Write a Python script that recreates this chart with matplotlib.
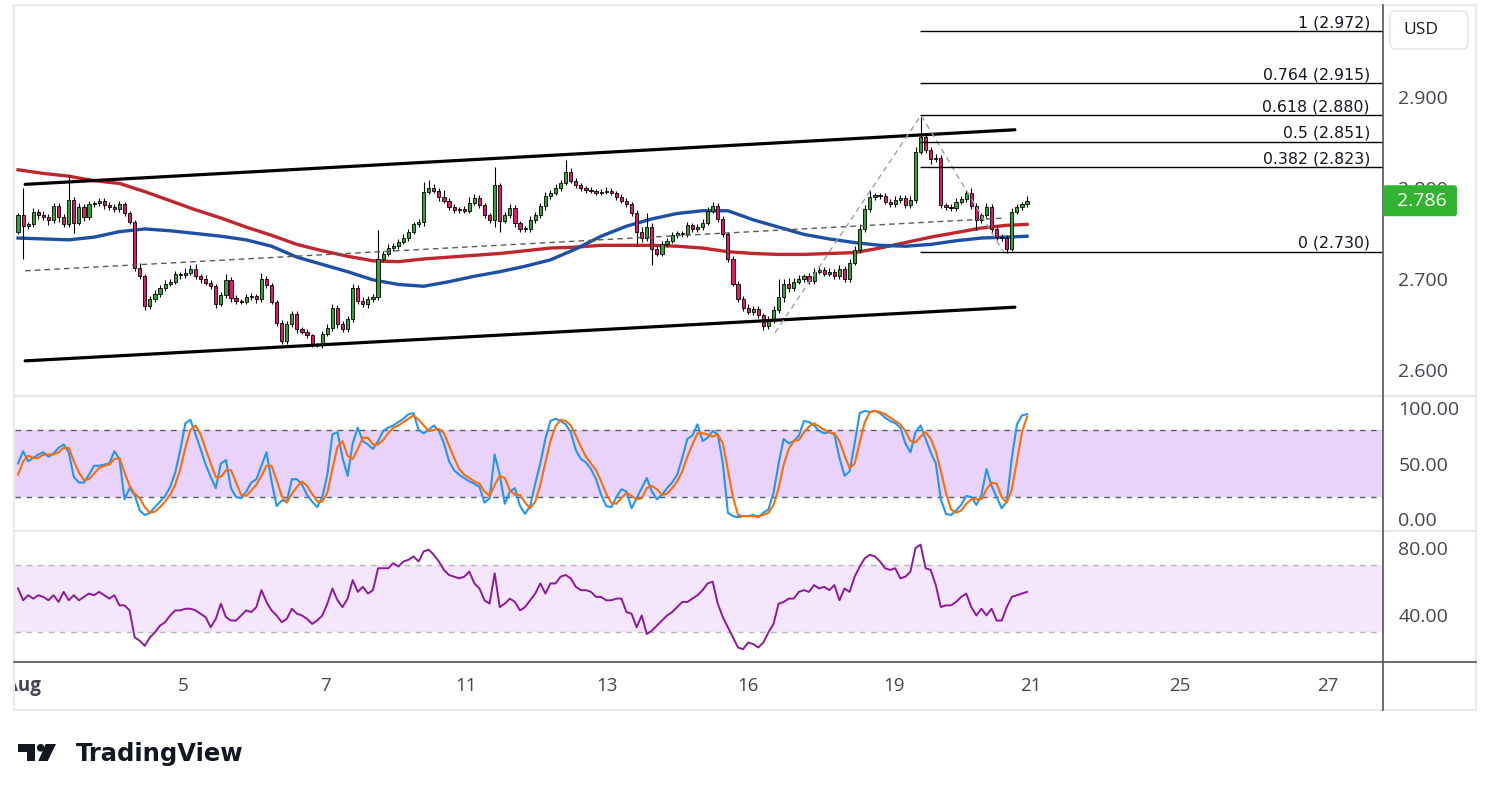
import numpy as np
import matplotlib.pyplot as plt
from matplotlib.patches import Rectangle, FancyBboxPatch, Circle, Polygon
from matplotlib.transforms import blended_transform_factory

plt.rcParams['font.family'] = ['Open Sans', 'DejaVu Sans']

# candles (USD), open = previous close
first_open = 2.752
closes = [2.770, 2.758, 2.760, 2.774, 2.770, 2.768, 2.765, 2.780, 2.768, 2.760,
          2.787, 2.762, 2.779, 2.768, 2.782, 2.783, 2.786, 2.781, 2.779, 2.777,
          2.782, 2.772, 2.763, 2.712, 2.703, 2.670, 2.678, 2.684, 2.690, 2.695,
          2.697, 2.705, 2.704, 2.707, 2.711, 2.703, 2.700, 2.696, 2.692, 2.673,
          2.682, 2.699, 2.679, 2.676, 2.675, 2.680, 2.681, 2.678, 2.700, 2.693,
          2.675, 2.652, 2.632, 2.650, 2.662, 2.645, 2.642, 2.638, 2.628, 2.627,
          2.640, 2.646, 2.668, 2.650, 2.645, 2.656, 2.690, 2.676, 2.672, 2.678,
          2.680, 2.722, 2.728, 2.734, 2.736, 2.741, 2.745, 2.752, 2.760, 2.763,
          2.796, 2.800, 2.797, 2.790, 2.786, 2.779, 2.776, 2.777, 2.775, 2.784,
          2.789, 2.781, 2.770, 2.765, 2.803, 2.764, 2.770, 2.778, 2.762, 2.755,
          2.755, 2.765, 2.770, 2.780, 2.791, 2.795, 2.800, 2.806, 2.818, 2.808,
          2.803, 2.800, 2.798, 2.797, 2.795, 2.796, 2.797, 2.795, 2.790, 2.786,
          2.782, 2.772, 2.752, 2.745, 2.757, 2.733, 2.728, 2.738, 2.742, 2.748,
          2.750, 2.749, 2.759, 2.755, 2.757, 2.762, 2.775, 2.780, 2.766, 2.749,
          2.722, 2.695, 2.678, 2.668, 2.664, 2.667, 2.660, 2.648, 2.655, 2.666,
          2.680, 2.695, 2.690, 2.697, 2.700, 2.703, 2.698, 2.708, 2.710, 2.706,
          2.708, 2.703, 2.711, 2.700, 2.718, 2.732, 2.755, 2.777, 2.790, 2.792,
          2.791, 2.785, 2.782, 2.787, 2.789, 2.781, 2.787, 2.840, 2.856, 2.842,
          2.832, 2.833, 2.781, 2.779, 2.778, 2.785, 2.788, 2.794, 2.780, 2.765,
          2.770, 2.779, 2.755, 2.746, 2.745, 2.733, 2.774, 2.779, 2.782, 2.786]

# wick lengths above / below the body, in thousandths
wick_up = [3, 30, 3, 4, 3, 5, 3, 4, 3, 3,
           27, 3, 4, 3, 4, 3, 3, 3, 4, 3,
           4, 3, 3, 2, 6, 3, 3, 4, 3, 4,
           3, 4, 3, 5, 4, 5, 3, 4, 3, 3,
           4, 6, 3, 3, 2, 3, 4, 3, 7, 3,
           3, 2, 3, 4, 3, 3, 2, 3, 2, 2,
           3, 4, 4, 3, 4, 3, 5, 3, 4, 3,
           3, 32, 3, 4, 3, 3, 4, 3, 3, 3,
           11, 9, 4, 3, 8, 3, 3, 2, 3, 6,
           4, 3, 3, 3, 20, 3, 4, 4, 3, 2,
           3, 4, 4, 3, 5, 3, 4, 3, 13, 4,
           3, 3, 2, 3, 2, 3, 4, 3, 2, 3,
           3, 3, 4, 5, 15, 4, 3, 4, 3, 4,
           3, 3, 4, 3, 3, 4, 4, 5, 3, 3,
           3, 3, 3, 3, 4, 3, 3, 3, 4, 4,
           20, 5, 6, 4, 4, 3, 4, 4, 3, 3,
           4, 3, 4, 3, 4, 4, 5, 4, 8, 3,
           3, 3, 3, 4, 3, 3, 4, 5, 22, 4,
           3, 4, 3, 3, 3, 4, 3, 4, 6, 3,
           3, 4, 3, 4, 3, 3, 4, 3, 3, 5]
wick_dn = [3, 36, 3, 3, 4, 3, 6, 3, 5, 3,
           3, 12, 3, 4, 3, 3, 3, 4, 3, 3,
           3, 3, 3, 3, 3, 4, 3, 3, 4, 3,
           3, 3, 4, 3, 3, 3, 4, 3, 3, 5,
           3, 3, 4, 3, 3, 3, 3, 4, 3, 3,
           3, 4, 3, 3, 3, 4, 3, 3, 3, 2,
           3, 3, 3, 4, 3, 3, 3, 3, 3, 4,
           3, 3, 3, 3, 3, 3, 3, 3, 3, 3,
           5, 3, 3, 4, 3, 3, 4, 3, 3, 3,
           3, 3, 3, 3, 8, 12, 3, 3, 5, 3,
           3, 3, 3, 3, 4, 3, 3, 3, 3, 3,
           3, 3, 3, 3, 3, 3, 3, 3, 3, 3,
           3, 3, 16, 4, 3, 18, 3, 3, 3, 3,
           3, 3, 3, 3, 3, 3, 3, 3, 3, 3,
           3, 3, 3, 3, 3, 4, 3, 4, 3, 3,
           3, 5, 4, 3, 3, 3, 3, 3, 3, 3,
           3, 3, 3, 3, 3, 3, 3, 3, 3, 3,
           3, 3, 3, 3, 3, 3, 3, 3, 3, 3,
           6, 3, 3, 3, 3, 3, 3, 3, 3, 11,
           3, 3, 5, 3, 3, 4, 2, 3, 3, 3]

# moving averages, read every 5 candles
ma_idx = list(range(0, 200, 5)) + [199]
ma_red = [2.820, 2.816, 2.813, 2.808, 2.805, 2.796, 2.786, 2.776, 2.767, 2.757,
          2.748, 2.738, 2.731, 2.725, 2.720, 2.719, 2.722, 2.724, 2.726, 2.728,
          2.731, 2.734, 2.735, 2.737, 2.737, 2.737, 2.736, 2.734, 2.730, 2.728,
          2.727, 2.727, 2.728, 2.729, 2.734, 2.740, 2.746, 2.751, 2.756, 2.759,
          2.760]
ma_blue = [2.745, 2.744, 2.743, 2.746, 2.752, 2.755, 2.753, 2.750, 2.747, 2.743,
           2.736, 2.724, 2.716, 2.708, 2.699, 2.694, 2.692, 2.697, 2.703, 2.708,
           2.714, 2.721, 2.733, 2.747, 2.758, 2.766, 2.772, 2.775, 2.775, 2.765,
           2.757, 2.749, 2.744, 2.740, 2.737, 2.736, 2.738, 2.742, 2.745, 2.746,
           2.747]

stoch_k = [50, 61, 52, 55, 58, 60, 56, 59, 64, 67,
           60, 38, 33, 33, 40, 48, 48, 49, 50, 61,
           54, 18, 28, 22, 8, 4, 6, 11, 16, 21,
           29, 42, 62, 86, 89, 76, 63, 49, 38, 28,
           50, 53, 28, 20, 19, 25, 33, 36, 48, 60,
           34, 12, 17, 16, 36, 36, 31, 22, 16, 11,
           20, 40, 76, 78, 55, 39, 68, 82, 70, 67,
           63, 70, 79, 82, 84, 87, 90, 94, 95, 80,
           77, 80, 84, 79, 68, 52, 44, 40, 37, 34,
           32, 29, 15, 19, 58, 40, 14, 25, 28, 12,
           5, 12, 32, 50, 72, 88, 90, 88, 85, 78,
           62, 54, 51, 45, 36, 22, 12, 11, 20, 27,
           25, 10, 19, 28, 37, 25, 18, 22, 28, 33,
           40, 55, 72, 75, 85, 70, 73, 79, 76, 50,
           6, 3, 2, 3, 3, 4, 2, 6, 9, 24,
           50, 72, 68, 70, 75, 88, 87, 84, 79, 77,
           78, 76, 55, 39, 43, 68, 95, 97, 96, 97,
           95, 91, 88, 86, 82, 68, 60, 78, 84, 72,
           60, 50, 18, 5, 4, 8, 13, 21, 20, 13,
           22, 45, 30, 20, 10, 16, 55, 85, 93, 94]
stoch_d = [40, 52, 57, 55, 55, 58, 58, 58, 60, 64,
           64, 52, 42, 35, 36, 41, 46, 48, 49, 54,
           55, 42, 30, 23, 19, 11, 6, 7, 11, 16,
           22, 31, 45, 64, 80, 84, 76, 63, 50, 38,
           38, 44, 44, 33, 22, 21, 26, 31, 39, 48,
           48, 35, 21, 15, 23, 29, 34, 30, 23, 16,
           16, 24, 45, 65, 70, 57, 54, 63, 73, 73,
           67, 67, 71, 77, 82, 84, 87, 90, 93, 89,
           84, 79, 80, 81, 77, 66, 55, 45, 40, 37,
           34, 32, 25, 21, 31, 39, 37, 26, 22, 22,
           15, 10, 16, 31, 51, 70, 83, 89, 88, 84,
           75, 65, 56, 50, 44, 34, 23, 15, 14, 19,
           24, 21, 18, 19, 28, 30, 27, 22, 23, 28,
           34, 43, 56, 67, 77, 77, 76, 74, 76, 68,
           44, 20, 4, 3, 3, 3, 3, 4, 6, 13,
           28, 49, 63, 70, 71, 78, 83, 86, 83, 80,
           78, 77, 70, 57, 46, 50, 69, 87, 96, 97,
           96, 94, 91, 88, 85, 79, 70, 69, 74, 78,
           72, 61, 43, 24, 9, 6, 8, 14, 18, 18,
           18, 27, 33, 32, 20, 15, 27, 52, 78, 92]
rsi = [56, 49, 52, 50, 52, 51, 49, 52, 48, 54,
       49, 52, 49, 51, 53, 52, 54, 52, 50, 52,
       46, 46, 43, 27, 25, 22, 27, 30, 34, 36,
       40, 43, 43, 44, 44, 43, 41, 39, 33, 38,
       47, 39, 37, 37, 40, 43, 42, 45, 55, 48,
       43, 40, 36, 38, 44, 41, 40, 38, 35, 37,
       40, 47, 56, 49, 45, 50, 61, 54, 57, 53,
       55, 68, 68, 68, 71, 69, 72, 73, 75, 72,
       78, 79, 76, 72, 67, 64, 63, 62, 63, 66,
       59, 56, 49, 47, 65, 45, 47, 50, 48, 43,
       45, 49, 53, 59, 53, 59, 59, 63, 64, 62,
       57, 55, 55, 54, 51, 51, 49, 49, 50, 50,
       42, 41, 33, 40, 29, 31, 34, 37, 40, 42,
       45, 48, 48, 50, 52, 55, 59, 60, 47, 39,
       33, 27, 21, 20, 24, 23, 21, 24, 30, 35,
       47, 48, 50, 50, 54, 55, 54, 58, 56, 57,
       55, 58, 49, 56, 54, 63, 69, 74, 76, 75,
       72, 68, 67, 68, 62, 63, 66, 80, 82, 68,
       67, 58, 45, 46, 46, 48, 51, 53, 45, 40,
       44, 40, 44, 37, 37, 45, 51, 52, 53, 54]

# drawings (candle index, price)
chan_x = [1.4, 196.6]
chan_top = [2.804, 2.864]
chan_bot = [2.610, 2.669]
mid_x = [1.4, 194.7]
mid_y = [2.709, 2.767]
zig_x = [149.3, 178.1, 194.3]
zig_y = [2.641, 2.880, 2.730]
fib_start = 177.9
fib_ratios = ['1', '0.764', '0.618', '0.5', '0.382', '0']
fib_prices = [2.972, 2.915, 2.880, 2.851, 2.823, 2.730]

date_labels = ['Aug', '5', '7', '11', '13', '16', '19', '21', '25', '27']
date_pos = [1.0, 32.5, 60.6, 88.4, 116.2, 144.0, 172.8, 199.8, 229.2, 258.4]

W, H = 1491, 800
L, R = 15, 1383
fig = plt.figure(figsize=(W / 100, H / 100), dpi=100)
fig.patch.set_facecolor('white')


def box(top, bottom):
    return [L / W, 1 - bottom / H, (R - L) / W, (bottom - top) / H]


ax_p = fig.add_axes(box(5, 395))
ax_s = fig.add_axes(box(396, 530))
ax_r = fig.add_axes(box(531, 662))
ax_t = fig.add_axes(box(662, 710))

xlim = (-0.6, 269.2)
for a in (ax_p, ax_s, ax_r, ax_t):
    a.set_xlim(*xlim)
    for s in a.spines.values():
        s.set_visible(False)
    a.set_xticks([])
    a.yaxis.tick_right()
    a.tick_params(axis='y', length=0, pad=11, labelsize=14, labelcolor='#434651')

# price pane
x = np.arange(len(closes))
c = np.array(closes)
o = np.concatenate([[first_open], c[:-1]])
hi = np.maximum(o, c) + np.array(wick_up) / 1000
lo = np.minimum(o, c) - np.array(wick_dn) / 1000
col = np.where(c >= o, '#2fa52f', '#e3186b')

ax_p.plot(ma_idx, ma_red, color='#c0262d', lw=2.4, zorder=2)
ax_p.plot(ma_idx, ma_blue, color='#1c4fa6', lw=2.4, zorder=2)
ax_p.vlines(x, lo, hi, color='black', lw=0.8, zorder=3)
ax_p.bar(x, np.maximum(np.abs(c - o), 0.0008), bottom=np.minimum(o, c), width=0.62,
         color=col, edgecolor='black', linewidth=0.6, zorder=4)

ax_p.plot(chan_x, chan_top, color='black', lw=2.3, zorder=5, solid_capstyle='round')
ax_p.plot(chan_x, chan_bot, color='black', lw=2.3, zorder=5, solid_capstyle='round')
ax_p.plot(mid_x, mid_y, color='#5a5a5a', lw=1, ls=(0, (4, 3)), zorder=5)
ax_p.plot(zig_x, zig_y, color='#a0a0a0', lw=1, ls=(0, (4, 3)), zorder=5)

ax_p.hlines(fib_prices, fib_start, xlim[1], color='black', lw=1, zorder=5)
tr = blended_transform_factory(ax_p.transAxes, ax_p.transData)
for r, p in zip(fib_ratios, fib_prices):
    ax_p.annotate(f'{r} ({p:.3f})', xy=(1, p), xycoords=tr, xytext=(-9.4, 2.9),
                  textcoords='offset points', ha='right', va='baseline',
                  fontsize=11.3, family='DejaVu Sans', color='#131722')

ax_p.set_ylim(2.5725, 3.0011)
ax_p.set_yticks([2.6, 2.7, 2.8, 2.9])
ax_p.set_yticklabels([f'{v:.3f}' for v in [2.6, 2.7, 2.8, 2.9]])

# stochastic pane
ax_s.axhspan(20, 80, color='#e9d3fb', lw=0)
for lvl in (20, 80):
    ax_s.axhline(lvl, color='#5b5b66', lw=1, ls=(0, (4, 4)))
ax_s.plot(x, stoch_k, color='#2196f3', lw=1.5)
ax_s.plot(x, stoch_d, color='#ff6d00', lw=1.5)
ax_s.set_ylim(-9.4, 110.3)
ax_s.set_yticks([0, 50, 100])
ax_s.set_yticklabels(['0.00', '50.00', '100.00'])

# RSI pane
ax_r.axhspan(30, 70, color='#f3e6fd', lw=0)
for lvl in (30, 70):
    ax_r.axhline(lvl, color='#b5b5bd', lw=1, ls=(0, (4, 4)))
ax_r.plot(x, rsi, color='#8d1a9b', lw=1.4)
ax_r.set_ylim(12.4, 90.1)
ax_r.set_yticks([40, 80])
ax_r.set_yticklabels(['40.00', '80.00'])

# time axis
ax_t.set_ylim(0, 1)
ax_t.set_yticks([])
for lab, pos in zip(date_labels, date_pos):
    ax_t.text(pos, 0.5, lab, ha='center', va='center', fontsize=13.5, color='#434651',
              weight='bold' if lab == 'Aug' else 'normal', clip_on=True)

# frame, separators, labels, logo
ov = fig.add_axes([0, 0, 1, 1])
ov.set_zorder(10)
ov.set_xlim(0, W)
ov.set_ylim(H, 0)
ov.axis('off')
ov.add_patch(Rectangle((14, 5), 1462, 705, fill=False, ec='#e9e9ee', lw=1.5))
ov.plot([14, 1476], [396, 396], color='#e0e3eb', lw=1.2)
ov.plot([14, 1476], [530.5, 530.5], color='#e0e3eb', lw=1.2)
ov.plot([14, 1476], [662, 662], color='#50535e', lw=1.2)
ov.plot([1383, 1383], [5, 710], color='#50535e', lw=1.2)

ov.add_patch(FancyBboxPatch((1390, 11), 78, 38, boxstyle='round,pad=0,rounding_size=6',
                            fc='white', ec='#e0e3eb', lw=1))
ov.text(1403, 30, 'USD', va='center', ha='left', fontsize=12.5, color='#131722')

y_disp = ax_p.transData.transform((0, closes[-1]))[1]
yc = H - y_disp
ov.add_patch(FancyBboxPatch((1383, yc - 15.5), 74, 31, boxstyle='round,pad=0,rounding_size=3',
                            fc='#31b531', ec='none', zorder=6))
ov.text(1397, yc, f'{closes[-1]:.3f}', va='center', ha='left', fontsize=14,
        color='white', zorder=7)

ink = '#131722'
ov.add_patch(Rectangle((18.3, 744), 16.7, 7.5, fc=ink, ec='none'))
ov.add_patch(Rectangle((26.7, 744), 8.3, 17, fc=ink, ec='none'))
ov.add_patch(Circle((40.7, 747.8), 3.8, fc=ink, ec='none'))
ov.add_patch(Polygon([(45.7, 744), (56, 744), (47.7, 761), (38.3, 761)], fc=ink, ec='none'))
ov.text(76, 761, 'TradingView', fontsize=17.5, weight='bold', family='DejaVu Sans',
        va='baseline', ha='left', color=ink)

fig.savefig('out.png', dpi=100, facecolor='white')
